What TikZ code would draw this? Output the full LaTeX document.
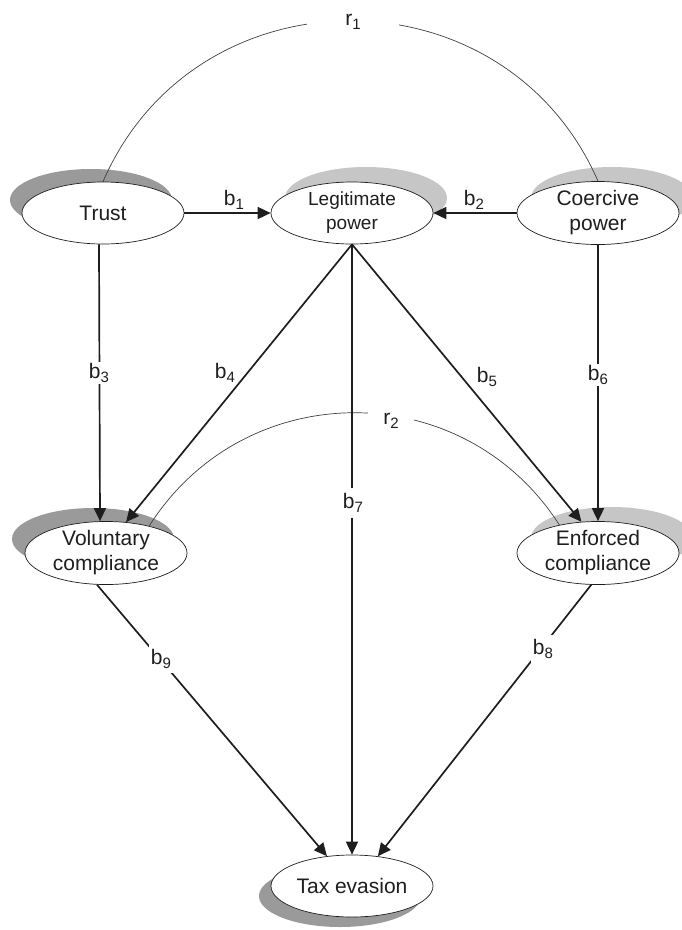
\documentclass[tikz,border=0pt]{standalone}
\usepackage{fontspec}
\setmainfont{Liberation Sans}
\usetikzlibrary{shapes.geometric,arrows.meta,calc}
\pgfdeclarelayer{shadowlayer}
\pgfdeclarelayer{arclayer}
\pgfsetlayers{shadowlayer,arclayer,main}
\newcommand{\blbl}[1]{b\raisebox{-3.5pt}{\fontsize{15}{15}\selectfont #1}}
\newcommand{\rlbl}[1]{r\raisebox{-4.5pt}{\fontsize{15}{15}\selectfont #1}}
\definecolor{shdark}{HTML}{9A9A9A}
\definecolor{shlight}{HTML}{C6C6C6}
\definecolor{ink}{HTML}{1E1E1E}
\begin{document}
\begin{tikzpicture}[x=1pt,y=-1pt,
  ell/.style={ellipse, draw=ink, line width=0.7pt, fill=white,
    minimum width=162pt, minimum height=62pt, inner sep=0pt,
    align=center, text=ink, font=\fontsize{21}{25}\selectfont},
  smallell/.style={font=\fontsize{19}{24}\selectfont},
  arr/.style={-{Triangle[length=13pt,width=12pt]}, line width=1.7pt, draw=ink},
  corr/.style={line width=0.7pt, draw=ink!85},
  lab/.style={text=ink, font=\fontsize{21}{23}\selectfont, inner sep=2pt},
  onlab/.style={lab, fill=white},
]
\useasboundingbox (0,0) rectangle (681,930);

% nodes
\node[ell] (trust) at (103,213) {Trust};
\node[ell, smallell] (legit) at (352,213) {Legitimate\\power};
\node[ell] (coerc) at (598,213) {Coercive\\power};
\node[ell] (vol) at (106,553) {Voluntary\\compliance};
\node[ell] (enf) at (598,553) {Enforced\\compliance};
\node[ell] (tax) at (352,886) {Tax evasion};

% shadows
\begin{pgfonlayer}{shadowlayer}
\fill[shdark] ($(trust.center)+(-12,-13)$) ellipse [x radius=81pt, y radius=31pt];
\fill[shlight] ($(legit.center)+(14,-15)$) ellipse [x radius=81pt, y radius=31pt];
\fill[shlight] ($(coerc.center)+(14,-15)$) ellipse [x radius=81pt, y radius=31pt];
\fill[shdark] ($(vol.center)+(-13,-14)$) ellipse [x radius=81pt, y radius=31pt];
\fill[shlight] ($(enf.center)+(14,-15)$) ellipse [x radius=81pt, y radius=31pt];
\fill[shdark] ($(tax.center)+(-12,10)$) ellipse [x radius=81pt, y radius=31pt];
\end{pgfonlayer}

% correlation arcs
\begin{pgfonlayer}{arclayer}
\draw[corr] (trust.north) to[bend left=66.5, looseness=1.21] (coerc.north);
\node[lab, fill=white, inner xsep=38pt, inner ysep=4pt] (r1) at (353,22) {\rlbl{1}};
\draw[corr] (vol.32) to[bend left=57.5, looseness=1.11] (enf.144);
\node[lab, fill=white, inner xsep=15pt, inner ysep=4pt] (r2) at (391,421) {\rlbl{2}};
\end{pgfonlayer}

% paths
\draw[arr] (trust) -- (legit);
\draw[arr] (coerc) -- (legit);
\draw[arr] ([xshift=-4pt]trust.south) -- ([xshift=-6pt]vol.north);
\draw[arr] (coerc) -- (enf);
\draw[arr] (legit.south) -- (vol.57);
\draw[arr] (legit.south) -- (enf.118);
\draw[arr] (legit) -- (tax);
\draw[arr] (vol.254) -- (tax.130);
\draw[arr] (enf.258) -- (tax.49);

% path labels
\node[lab] (b1) at (234,200) {\blbl{1}};
\node[lab] (b2) at (474,200) {\blbl{2}};
\node[onlab] (b3) at (99,373) {\blbl{3}};
\node[lab] (b4) at (225,373) {\blbl{4}};
\node[lab] (b5) at (487,377) {\blbl{5}};
\node[onlab] (b6) at (598,375) {\blbl{6}};
\node[onlab, inner ysep=6pt] (b7) at (353,503) {\blbl{7}};
\node[onlab, inner ysep=5pt] (b8) at (543,649) {\blbl{8}};
\node[onlab, inner ysep=5pt] (b9) at (161,659) {\blbl{9}};
\end{tikzpicture}
\end{document}
